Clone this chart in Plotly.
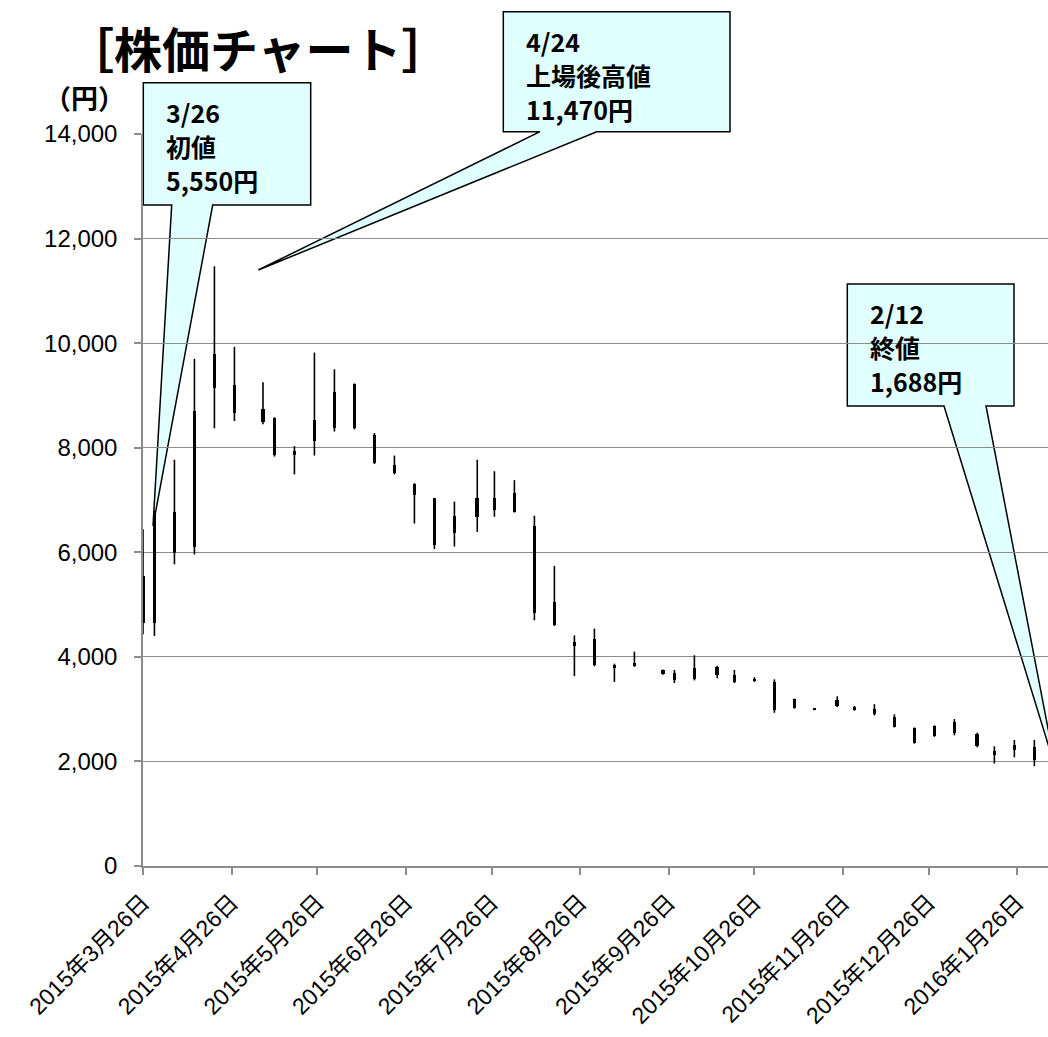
import plotly.graph_objects as go

# ---- data (weekly candles) ----
dates = ["2015-03-26", "2015-03-30", "2015-04-06", "2015-04-13", "2015-04-20", "2015-04-27",
         "2015-05-07", "2015-05-11", "2015-05-18", "2015-05-25", "2015-06-01", "2015-06-08",
         "2015-06-15", "2015-06-22", "2015-06-29", "2015-07-06", "2015-07-13", "2015-07-21",
         "2015-07-27", "2015-08-03", "2015-08-10", "2015-08-17", "2015-08-24", "2015-08-31",
         "2015-09-07", "2015-09-14", "2015-09-24", "2015-09-28", "2015-10-05", "2015-10-13",
         "2015-10-19", "2015-10-26", "2015-11-02", "2015-11-09", "2015-11-16", "2015-11-24",
         "2015-11-30", "2015-12-07", "2015-12-14", "2015-12-21", "2015-12-28", "2016-01-04",
         "2016-01-12", "2016-01-18", "2016-01-25", "2016-02-01"]
open_ = [5550, 4650, 6780, 6100, 9150, 9200, 8740, 8560, 7940, 8130, 8370, 9220,
         8240, 7660, 7300, 7030, 6370, 6680, 7030, 6780, 6510, 5050, 4210, 4350,
         3780, 3820, 3750, 3690, 3570, 3810, 3650, 3580, 3520, 3190, 3000, 3060,
         3040, 3010, 2850, 2630, 2480, 2760, 2530, 2200, 2220, 2280]
high = [6440, 6800, 7770, 9700, 11470, 9930, 9250, 8580, 8030, 9820, 9500, 9230,
        8280, 7850, 7320, 7040, 6970, 7770, 7550, 7380, 6700, 5740, 4410, 4540,
        3870, 4100, 3760, 3750, 4030, 3830, 3750, 3610, 3570, 3200, 3020, 3245,
        3060, 3095, 2900, 2650, 2690, 2810, 2550, 2290, 2410, 2410]
low = [4430, 4400, 5770, 5960, 8370, 8510, 8450, 7830, 7490, 7850, 8310, 8350,
       7690, 7490, 6550, 6060, 6110, 6390, 6680, 6760, 4700, 4590, 3630, 3820,
       3520, 3810, 3660, 3500, 3550, 3590, 3500, 3520, 2930, 3010, 2980, 3040,
       2970, 2880, 2650, 2340, 2470, 2500, 2270, 1960, 2080, 1910]
close = [4640, 6750, 5990, 8710, 9790, 8660, 8500, 7860, 7860, 8530, 9070, 8370,
         7710, 7520, 7100, 6140, 6690, 7030, 6810, 7140, 4830, 4610, 4290, 3840,
         3840, 3890, 3670, 3550, 3780, 3650, 3520, 3540, 2980, 3020, 3010, 3170,
         2990, 2900, 2660, 2360, 2680, 2540, 2290, 2120, 2310, 2020]

tick_dates = ["2015-03-26", "2015-04-26", "2015-05-26", "2015-06-26", "2015-07-26", "2015-08-26",
              "2015-09-26", "2015-10-26", "2015-11-26", "2015-12-26", "2016-01-26"]
tick_text = ["2015年3月26日", "2015年4月26日", "2015年5月26日", "2015年6月26日", "2015年7月26日",
             "2015年8月26日", "2015年9月26日", "2015年10月26日", "2015年11月26日",
             "2015年12月26日", "2016年1月26日"]
y_ticks = [0, 2000, 4000, 6000, 8000, 10000, 12000, 14000]

callouts = [
    ("3/26", "初値", "5,550円"),
    ("4/24", "上場後高値", "11,470円"),
    ("2/12", "終値", "1,688円"),
]

# ---- layout geometry (pixels) ----
W, H = 1048, 1037
L, R, T, B = 143, 0, 134, 171
PW, PH = W - L - R, H - T - B


def px(x):
    return (x - L) / PW


def py(y):
    return (H - B - y) / PH


fig = go.Figure()

# wicks
wx, wy = [], []
for d, h, l in zip(dates, high, low):
    wx += [d, d, None]
    wy += [h, l, None]
fig.add_trace(go.Scatter(x=wx, y=wy, mode="lines", line=dict(color="black", width=1.6),
                         hoverinfo="skip", showlegend=False))

# bodies
body_base = [min(o, c) for o, c in zip(open_, close)]
body_len = [max(abs(c - o), 25) for o, c in zip(open_, close)]
fig.add_trace(go.Bar(x=dates, y=body_len, base=body_base, width=1.25 * 86400000,
                     marker=dict(color="black", line=dict(width=0)), showlegend=False))

# callout shapes
boxes = [
    # left, top, right, bottom, base_l, base_r, tip_x, tip_y
    (143.3, 82.7, 310.7, 205, 171.7, 212.7, 153, 526),
    (503.3, 11.7, 730, 131.7, 540, 596.7, 258.3, 270),
    (847.3, 284, 1014, 406, 944, 986, 1056, 770),
]
shapes = []
for (l, t, r, b, bl, br, tx, ty) in boxes:
    pts = [(l, t), (r, t), (r, b), (br, b), (tx, ty), (bl, b), (l, b)]
    path = "M " + " L ".join(f"{px(a):.5f},{py(c):.5f}" for a, c in pts) + " Z"
    shapes.append(dict(type="path", path=path, xref="paper", yref="paper",
                       fillcolor="rgb(224,255,255)", line=dict(color="black", width=1.5),
                       layer="below"))

annotations = []
text_font = dict(family="Noto Sans CJK JP", size=25, color="black", weight="bold")
for (l, t, r, b, *_), lines in zip(boxes, callouts):
    x0 = l + 21
    ys = [t + 29, t + 63, t + 97]
    for s, yy in zip(lines, ys):
        annotations.append(dict(text=s, x=px(x0), y=py(yy), xref="paper", yref="paper",
                                xanchor="left", yanchor="middle", showarrow=False,
                                font=text_font))

annotations.append(dict(text="［株価チャート］", x=px(258), y=py(47), xref="paper", yref="paper",
                        xanchor="center", yanchor="middle", showarrow=False,
                        font=dict(family="Noto Sans CJK JP", size=48, color="black", weight="bold")))
annotations.append(dict(text="（円）", x=px(84), y=py(98), xref="paper", yref="paper",
                        xanchor="center", yanchor="middle", showarrow=False,
                        font=dict(family="Noto Sans CJK JP", size=27, color="black", weight="bold")))

fig.update_layout(
    width=W, height=H, autosize=False,
    margin=dict(l=L, r=R, t=T, b=B),
    paper_bgcolor="white", plot_bgcolor="white",
    showlegend=False, bargap=0,
    shapes=shapes, annotations=annotations,
    xaxis=dict(type="date", range=["2015-03-26", "2016-02-05 18:30"],
               tickvals=tick_dates, ticktext=tick_text, tickangle=-45,
               ticks="outside", ticklen=7, tickcolor="#8c8c8c", tickwidth=1.5,
               showline=True, linecolor="#8c8c8c", linewidth=1.5,
               showgrid=False, zeroline=False, ticklabelstandoff=5, automargin=False,
               tickfont=dict(family="Liberation Sans, Noto Sans CJK JP", size=23, color="black"),
               rangeslider=dict(visible=False)),
    yaxis=dict(range=[0, 14000], tickvals=y_ticks, tickformat=",d",
               ticks="outside", ticklen=7, tickcolor="#8c8c8c", tickwidth=1.5,
               showline=True, linecolor="#8c8c8c", linewidth=1.5, ticklabelstandoff=12,
               showgrid=True, gridcolor="#8c8c8c", gridwidth=1.3, zeroline=False,
               automargin=False,
               tickfont=dict(family="Liberation Sans", size=24, color="black")),
)

fig.write_html("out.html")
